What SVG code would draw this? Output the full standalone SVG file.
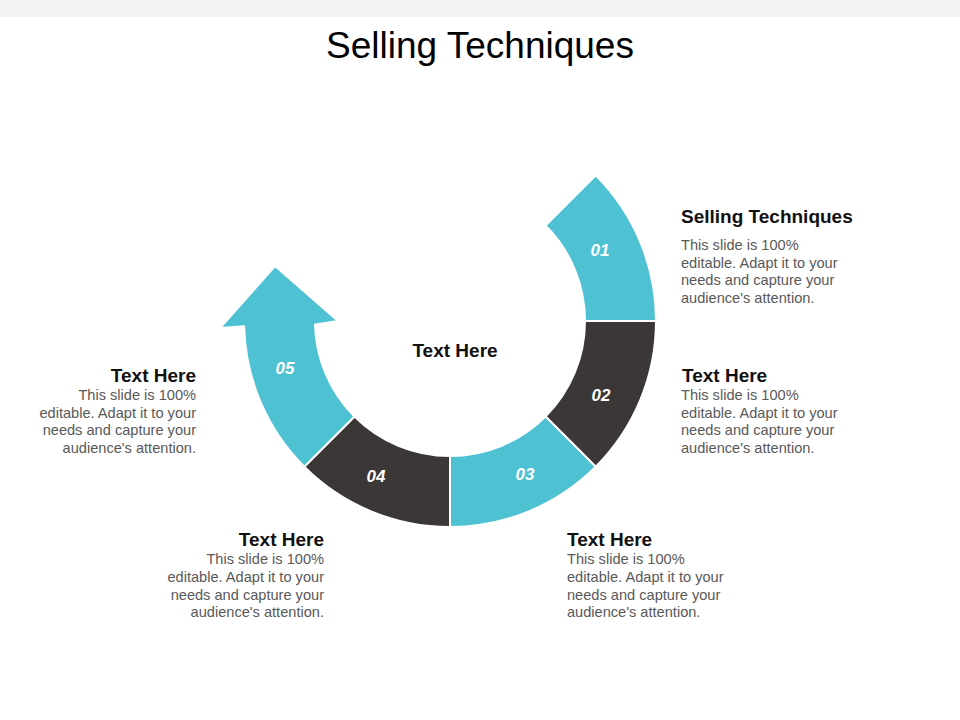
<svg xmlns="http://www.w3.org/2000/svg" width="960" height="720" viewBox="0 0 960 720">
<style>
.teal{fill:#4EC2D2;stroke:#fff;stroke-width:2;stroke-linejoin:miter}
.dark{fill:#3C3737;stroke:#fff;stroke-width:2;stroke-linejoin:miter}
.num{font-family:"Liberation Sans",Arial,sans-serif;font-size:17px;font-weight:bold;font-style:italic;fill:#fff;text-anchor:middle}
.hd{font-family:"Liberation Sans",Arial,sans-serif;font-size:19px;font-weight:bold;fill:#111}
.bd{font-family:"Liberation Sans",Arial,sans-serif;font-size:14.6px;fill:#595959}
.r{text-anchor:end}
</style>
<rect x="0" y="0" width="960" height="17" fill="#F2F2F2"/>
<text x="480" y="58" font-family="'Liberation Sans',Arial,sans-serif" font-size="37" fill="#000" text-anchor="middle">Selling Techniques</text>
<g id="seg01"><path class="teal" d="M595.7,175.3 A206,206 0 0 1 656,321 L585,321 A135,135 0 0 0 545.5,225.5 Z"/><text class="num" x="600" y="256">01</text></g>
<g id="seg02"><path class="dark" d="M656,321 A206,206 0 0 1 595.7,466.7 L545.5,416.5 A135,135 0 0 0 585,321 Z"/><text class="num" x="601" y="401">02</text></g>
<g id="seg03"><path class="teal" d="M595.7,466.7 A206,206 0 0 1 450,527 L450,456 A135,135 0 0 0 545.5,416.5 Z"/><text class="num" x="525" y="480">03</text></g>
<g id="seg04"><path class="dark" d="M450,527 A206,206 0 0 1 304.3,466.7 L354.5,416.5 A135,135 0 0 0 450,456 Z"/><text class="num" x="376" y="482">04</text></g>
<g id="seg05"><path class="teal" d="M304.3,466.7 A206,206 0 0 1 244.1,326.4 L220,328 L275,266 L338,321 L315,324.5 A135,135 0 0 0 354.5,416.5 Z"/><text class="num" x="285" y="374">05</text></g>
<g id="center"><text class="hd" x="455" y="357" text-anchor="middle">Text Here</text></g>
<g id="t1"><text class="hd" x="681" y="223">Selling Techniques</text>
<text class="bd" x="681" y="250">This slide is 100%</text><text class="bd" x="681" y="268">editable. Adapt it to your</text><text class="bd" x="681" y="285">needs and capture your</text><text class="bd" x="681" y="303">audience's attention.</text></g>
<g id="t2"><text class="hd" x="682" y="382">Text Here</text>
<text class="bd" x="681" y="400">This slide is 100%</text><text class="bd" x="681" y="418">editable. Adapt it to your</text><text class="bd" x="681" y="435">needs and capture your</text><text class="bd" x="681" y="453">audience's attention.</text></g>
<g id="t3"><text class="hd" x="567" y="546">Text Here</text>
<text class="bd" x="567" y="564">This slide is 100%</text><text class="bd" x="567" y="582">editable. Adapt it to your</text><text class="bd" x="567" y="600">needs and capture your</text><text class="bd" x="567" y="617">audience's attention.</text></g>
<g id="t4"><text class="hd r" x="324" y="546">Text Here</text>
<text class="bd r" x="324" y="564">This slide is 100%</text><text class="bd r" x="324" y="582">editable. Adapt it to your</text><text class="bd r" x="324" y="600">needs and capture your</text><text class="bd r" x="324" y="617">audience's attention.</text></g>
<g id="t5"><text class="hd r" x="196" y="382">Text Here</text>
<text class="bd r" x="196" y="400">This slide is 100%</text><text class="bd r" x="196" y="418">editable. Adapt it to your</text><text class="bd r" x="196" y="435">needs and capture your</text><text class="bd r" x="196" y="453">audience's attention.</text></g>
</svg>
